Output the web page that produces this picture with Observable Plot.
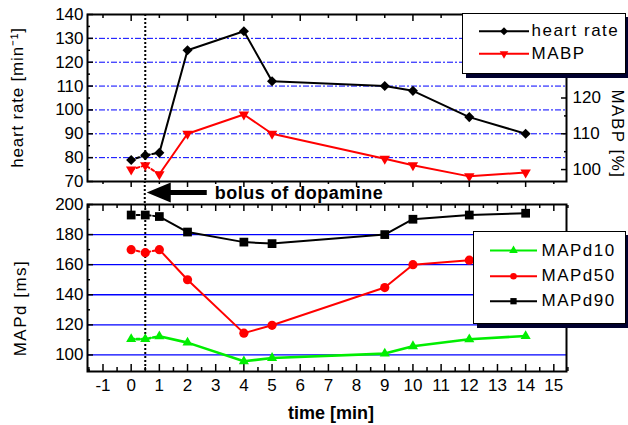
<!DOCTYPE html>
<html><head><meta charset="utf-8">
<script src="https://cdn.jsdelivr.net/npm/d3@7"></script>
<script src="https://cdn.jsdelivr.net/npm/@observablehq/plot@0.6"></script>
<style>
body{margin:0;background:#fff;font-family:"Liberation Sans",Arial,sans-serif;}
#wrap{position:relative;width:628px;height:425px;overflow:hidden;background:#fff;}
#wrap > svg{position:absolute;left:0;top:0;}
.legend{position:absolute;box-sizing:border-box;background:#fff;border:1.5px solid #000;box-shadow:4px 4px 0 #00002e;}
.legend span{position:absolute;font-size:17px;letter-spacing:1.5px;line-height:20px;color:#000;white-space:nowrap;}
.legend svg{position:absolute;left:0;top:0;overflow:visible;}
</style></head><body><div id="wrap"></div>
<script>
// ---- data ----
const time = [0, 0.5, 1, 2, 4, 5, 9, 10, 12, 14];
const heartRate = [79, 81, 82, 125, 133, 112, 110, 108, 97, 90];
const mabp = [100, 101.2, 98.7, 110, 115.4, 110, 103, 101.2, 98.1, 99.2];
const mapd10 = [110.5, 110.5, 112.4, 108.2, 95.8, 98, 100.9, 105.8, 110.4, 112.6];
const mapd50 = [170, 168, 170, 150, 114.5, 119.7, 144.8, 160, 163, 164];
const mapd90 = [193, 193, 192, 181.7, 175, 174, 180, 190.2, 193, 194.2];
const bolusTime = 0.5;
const bolusLabel = "bolus of dopamine";

const hrTicks = [70, 80, 90, 100, 110, 120, 130, 140];
const hrMinor = [75, 85, 95, 105, 115, 125, 135];
const hrGrid = [80, 90, 100, 110, 120, 130];
const mabpTicks = [100, 110, 120];
const mabpMinor = [105, 115];
const mapdTicks = [100, 120, 140, 160, 180, 200];
const mapdMinor = [90, 110, 130, 150, 170, 190];
const mapdGrid = [100, 120, 140, 160, 180];
const xTicks = [-1, 0, 1, 2, 3, 4, 5, 6, 7, 8, 9, 10, 11, 12, 13, 14, 15];
const xHalf = [-1.5, -0.5, 0.5, 1.5, 2.5, 3.5, 4.5, 5.5, 6.5, 7.5, 8.5, 9.5, 10.5, 11.5, 12.5, 13.5, 14.5, 15.5];
const xEven = [0, 2, 4, 6, 8, 10, 12, 14];
const xOdd = [-1, 1, 3, 5, 7, 9, 11, 13, 15];

const topNames = ["heart rate", "MABP"];
const bottomNames = ["MAPd10", "MAPd50", "MAPd90"];

// MABP (%) shares the heart-rate axis: 100 % ↔ 75 min⁻¹, 1 % ↔ 1.5 min⁻¹
const toHR = m => 75 + (m - 100) * 1.5;
const fromHR = h => 100 + (h - 75) / 1.5;

// ---- symbols ----
const rr = size => Math.sqrt(size / Math.PI);
const diamond = {draw(c, s){const r = rr(s) * 1.2; c.moveTo(0,-r); c.lineTo(r,0); c.lineTo(0,r); c.lineTo(-r,0); c.closePath();}};
const triDown = {draw(c, s){const w = rr(s) * 1.3, h = w * Math.sqrt(3); c.moveTo(-w,-h/3); c.lineTo(w,-h/3); c.lineTo(0,2*h/3); c.closePath();}};
const triUp = {draw(c, s){const w = rr(s) * 1.3, h = w * Math.sqrt(3); c.moveTo(-w,h/3); c.lineTo(w,h/3); c.lineTo(0,-2*h/3); c.closePath();}};
const square = {draw(c, s){const r = rr(s) * 0.95; c.rect(-r,-r,2*r,2*r);}};
const circle = {draw(c, s){const r = rr(s); c.moveTo(r,0); c.arc(0,0,r,0,2*Math.PI);}};

const topSeries = [
  {name: topNames[0], values: heartRate, color: "#000000", symbol: diamond, r: 4.2, w: 2},
  {name: topNames[1], values: mabp.map(toHR), color: "#ff0000", symbol: triDown, r: 4, w: 2}
];
const bottomSeries = [
  {name: bottomNames[0], values: mapd10, color: "#00ee00", symbol: triUp, r: 3.9, w: 2.6},
  {name: bottomNames[1], values: mapd50, color: "#ff0000", symbol: circle, r: 4.6, w: 2},
  {name: bottomNames[2], values: mapd90, color: "#000000", symbol: square, r: 4.6, w: 2}
];

const xDomain = [-1.55, 15.45];
const font = {fontFamily: "'Liberation Sans', Arial, sans-serif", fontSize: "17px", color: "#000", background: "transparent", overflow: "visible"};
const blank = () => "";

function seriesMarks(series) {
  const marks = [];
  for (const s of series) {
    const data = time.map((t, i) => ({t, v: s.values[i]}));
    marks.push(Plot.line(data.filter(d => d.t <= 1), {x: "t", y: "v", stroke: s.color, strokeWidth: s.w, strokeDasharray: "3,2.5"}));
    marks.push(Plot.line(data.filter(d => d.t >= 1), {x: "t", y: "v", stroke: s.color, strokeWidth: s.w}));
    marks.push(Plot.dot(data, {x: "t", y: "v", r: s.r, symbol: s.symbol, fill: s.color, stroke: "none"}));
  }
  return marks;
}

const bottomPlot = Plot.plot({
  width: 628, height: 425, marginTop: 204, marginBottom: 54, marginLeft: 87, marginRight: 62,
  x: {domain: xDomain}, y: {domain: [89, 200]},
  style: font,
  marks: [
    Plot.ruleY(mapdGrid, {stroke: "#0000ff", strokeWidth: 1.3}),
    Plot.ruleX([bolusTime], {stroke: "#000", strokeWidth: 2, strokeDasharray: "2,2"}),
    Plot.axisY(mapdTicks, {tickSize: -6, tickPadding: 10, label: null, stroke: "#000", strokeWidth: 1.5, tickFormat: d => String(d)}),
    Plot.axisY(mapdMinor, {tickSize: -3, tickFormat: blank, label: null, stroke: "#000", strokeWidth: 1.5}),
    Plot.axisX(xTicks, {tickSize: -7, tickPadding: 14, label: null, stroke: "#000", strokeWidth: 1.5, tickFormat: d => String(d)}),
    Plot.axisX(xHalf, {tickSize: -4, tickFormat: blank, label: null, stroke: "#000", strokeWidth: 1.5}),
    Plot.axisX(xTicks, {anchor: "top", tickSize: -6, tickFormat: blank, label: null, stroke: "#000", strokeWidth: 1.5}),
    Plot.axisX(xHalf, {anchor: "top", tickSize: -3, tickFormat: blank, label: null, stroke: "#000", strokeWidth: 1.5}),
    ...seriesMarks(bottomSeries),
    Plot.frame({stroke: "#000", strokeWidth: 2})
  ]
});

const topPlot = Plot.plot({
  width: 628, height: 200, marginTop: 14, marginBottom: 19, marginLeft: 87, marginRight: 62,
  x: {domain: xDomain}, y: {domain: [70, 140]},
  style: font,
  marks: [
    Plot.ruleY(hrGrid, {stroke: "#0000ff", strokeWidth: 1, strokeDasharray: "6,2,2,2"}),
    Plot.ruleX([bolusTime], {stroke: "#000", strokeWidth: 2, strokeDasharray: "2,2"}),
    Plot.axisY(hrTicks, {tickSize: -6, tickPadding: 10, label: null, stroke: "#000", strokeWidth: 1.5, tickFormat: d => String(d)}),
    Plot.axisY(hrMinor, {tickSize: -3, tickFormat: blank, label: null, stroke: "#000", strokeWidth: 1.5}),
    Plot.axisY(mabpTicks.map(toHR), {anchor: "right", tickSize: -6, tickPadding: 12, label: null, stroke: "#000", strokeWidth: 1.5, tickFormat: d => String(Math.round(fromHR(d)))}),
    Plot.axisY(mabpMinor.map(toHR), {anchor: "right", tickSize: -3, tickFormat: blank, label: null, stroke: "#000", strokeWidth: 1.5}),
    Plot.axisX(xEven, {anchor: "top", tickSize: -6, tickFormat: blank, label: null, stroke: "#000", strokeWidth: 1.5}),
    Plot.axisX(xOdd, {anchor: "top", tickSize: -3, tickFormat: blank, label: null, stroke: "#000", strokeWidth: 1.5}),
    Plot.axisX(xEven, {anchor: "bottom", tickSize: 6, tickFormat: blank, label: null, stroke: "#000", strokeWidth: 1.5}),
    Plot.axisX(xOdd, {anchor: "bottom", tickSize: 3, tickFormat: blank, label: null, stroke: "#000", strokeWidth: 1.5}),
    ...seriesMarks(topSeries),
    Plot.frame({stroke: "#000", strokeWidth: 2})
  ]
});

const wrap = document.getElementById("wrap");
wrap.appendChild(bottomPlot);
wrap.appendChild(topPlot);

// ---- overlay: bolus marker, arrow, axis titles ----
const xs = topPlot.scale("x");
const px = xs.apply(bolusTime);
const topFrameBottom = 181, bottomFrameTop = 204;
const ov = d3.select(wrap).append("svg").attr("width", 628).attr("height", 425)
  .style("font-family", "'Liberation Sans', Arial, sans-serif");
ov.append("line").attr("x1", px).attr("x2", px).attr("y1", topFrameBottom).attr("y2", bottomFrameTop)
  .attr("stroke", "#000").attr("stroke-width", 2).attr("stroke-dasharray", "2,2");
const ay = 192.5, tip = px + 2;
ov.append("path")
  .attr("d", `M${tip},${ay} L${tip+24},${ay-10} L${tip+24},${ay-2.5} L${tip+60},${ay-2.5} L${tip+60},${ay+2.5} L${tip+24},${ay+2.5} L${tip+24},${ay+10} Z`)
  .attr("fill", "#000");
ov.append("text").attr("x", tip + 68).attr("y", ay + 6.5).attr("font-size", 18).attr("font-weight", "bold")
  .attr("letter-spacing", 0.5).text(bolusLabel);

function vtext(x, y, rot, str, ls) {
  ov.append("text").attr("transform", `translate(${x},${y}) rotate(${rot})`)
    .attr("text-anchor", "middle").attr("dominant-baseline", "central")
    .attr("font-size", 17).attr("letter-spacing", ls).text(str);
}
vtext(17, 97.5, -90, "heart rate [min⁻¹]", 0.8);
vtext(20, 308, -90, "MAPd [ms]", 1.5);
vtext(617, 134, 90, "MABP [%]", 1.5);
ov.append("text").attr("x", 331).attr("y", 419).attr("text-anchor", "middle")
  .attr("font-size", 18).attr("font-weight", "bold").text("time [min]");

// ---- legends ----
function legend(series, box, rows, lineX, textX) {
  const div = d3.select(wrap).append("div").attr("class", "legend")
    .style("left", box[0] + "px").style("top", box[1] + "px")
    .style("width", box[2] + "px").style("height", box[3] + "px");
  const svg = div.append("svg").attr("width", box[2]).attr("height", box[3]);
  series.forEach((s, i) => {
    const cy = rows[i] - 1.5;
    svg.append("line").attr("x1", lineX[0]).attr("x2", lineX[1]).attr("y1", cy).attr("y2", cy)
      .attr("stroke", s.color).attr("stroke-width", 2);
    svg.append("path").attr("transform", `translate(${(lineX[0]+lineX[1])/2},${cy})`)
      .attr("d", d3.symbol(s.symbol, Math.PI * 3.3 * 3.3)()).attr("fill", s.color);
    div.append("span").style("left", (textX - 1.5) + "px").style("top", (cy - 10) + "px").text(s.name);
  });
}
legend(topSeries, [462, 13, 164, 61], [18.7, 41.3], [16, 66], 70);
legend(bottomSeries, [473, 231, 153, 93], [20, 45.7, 70.7], [16, 63], 69);
</script>
</body></html>
